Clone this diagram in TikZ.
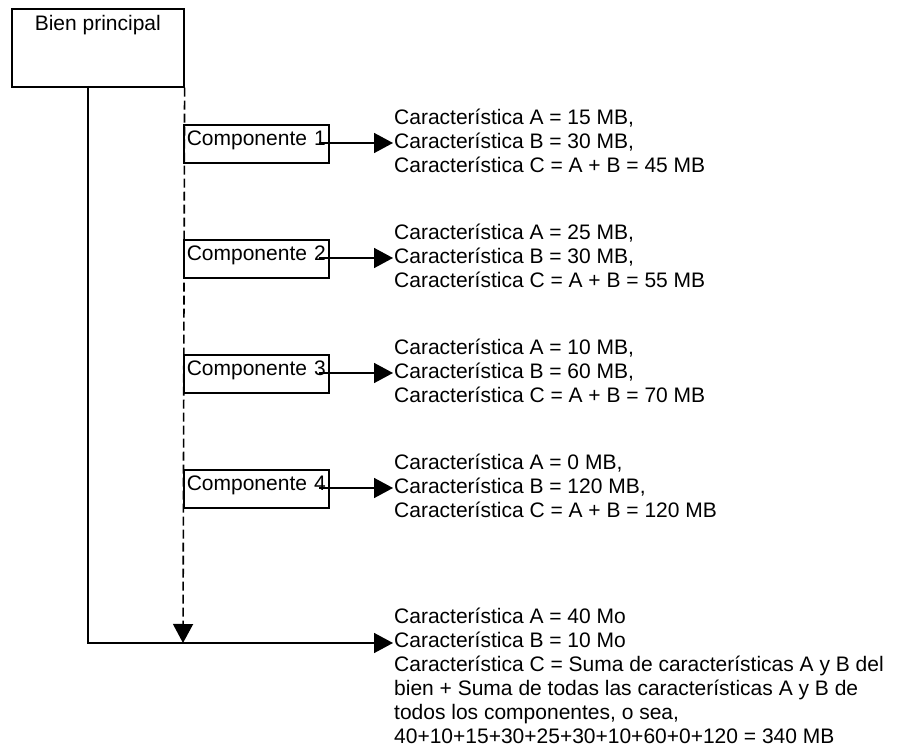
\documentclass[tikz,border=0pt]{standalone}
\usepackage{fontspec}
\setmainfont{Liberation Sans}
\usetikzlibrary{arrows.meta}
\begin{document}
\begin{tikzpicture}[x=1pt,y=-1pt,
  every node/.style={font=\fontsize{21}{24}\selectfont},
  boxline/.style={line width=1.6pt},
  mainbox/.style={draw, boxline, minimum width=172pt, minimum height=78pt, inner ysep=7pt, text height=15pt, text depth=49pt, align=center},
  compbox/.style={draw, boxline, anchor=north west, minimum width=145pt, minimum height=38pt, inner xsep=3pt, text width=139pt, align=left, text height=16pt, text depth=12pt},
  infotext/.style={anchor=west, inner sep=0pt, align=left},
  conn/.style={line width=1.6pt, -{Triangle[length=19pt,width=20pt]}},
  dconn/.style={conn, dash pattern=on 9pt off 4pt}
]
\useasboundingbox (0,0) rectangle (906,751);

\node[mainbox, anchor=north west] (bp) at (11,8) {Bien principal};

\node[compbox] (c1) at (183,124) {Componente 1};
\node[compbox] (c2) at (183,239) {Componente 2};
\node[compbox] (c3) at (183,354) {Componente 3};
\node[compbox] (c4) at (183,469) {Componente 4};

\node[infotext] (t1) at (394,141) {Característica A = 15 MB,\\Característica B = 30 MB,\\Característica C = A + B = 45 MB};
\node[infotext] (t2) at (394,256) {Característica A = 25 MB,\\Característica B = 30 MB,\\Característica C = A + B = 55 MB};
\node[infotext] (t3) at (394,371) {Característica A = 10 MB,\\Característica B = 60 MB,\\Característica C = A + B = 70 MB};
\node[infotext] (t4) at (394,486) {Característica A = 0 MB,\\Característica B = 120 MB,\\Característica C = A + B = 120 MB};
\node[infotext] (tb) at (394,676) {Característica A = 40 Mo\\Característica B = 10 Mo\\Característica C = Suma de características A y B del\\bien + Suma de todas las características A y B de\\todos los componentes, o sea,\\40+10+15+30+25+30+10+60+0+120 = 340 MB};

\foreach \i/\y in {1/143,2/258,3/373,4/488}{
  \coordinate (s\i) at (319,\y);
  \coordinate (e\i) at (393,\y);
  \draw[conn] (s\i) -- (e\i);
}

\coordinate (js) at (88,86);
\coordinate (je) at (393,643);
\coordinate (dj) at (183,643);
\draw[dconn] (bp.south east) -- (dj);
\draw[conn] (js) |- (je);
\end{tikzpicture}
\end{document}
